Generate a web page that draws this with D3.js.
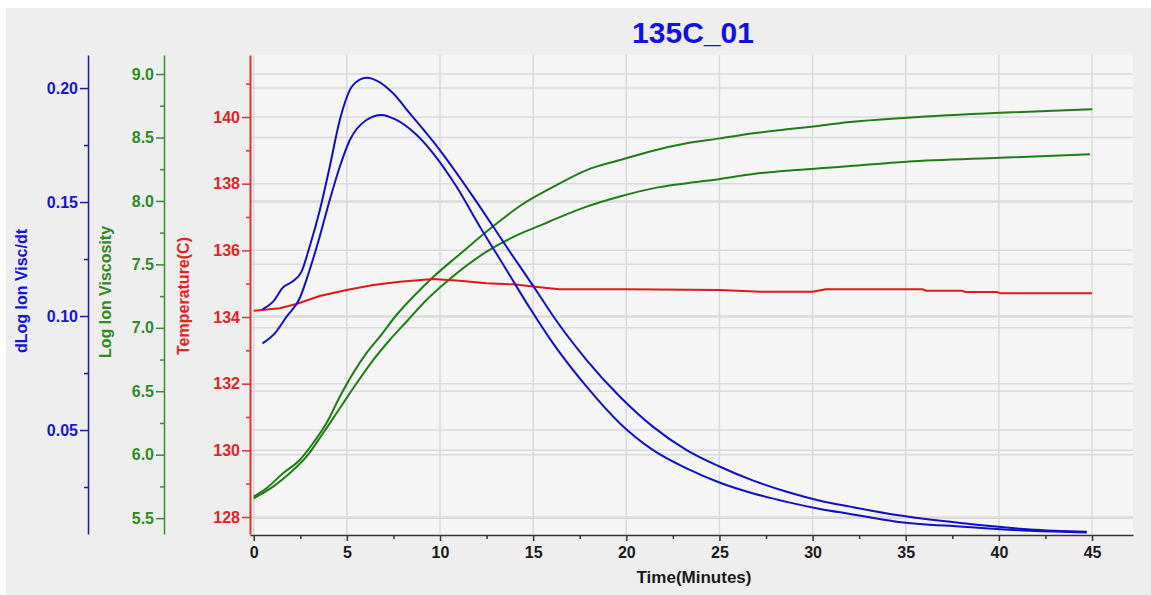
<!DOCTYPE html>
<html>
<head>
<meta charset="utf-8">
<script src="https://cdn.jsdelivr.net/npm/d3@7"></script>
<style>
  body { margin: 0; background: #fff; }
  svg text { font-family: Arial, "Liberation Sans", sans-serif; font-weight: bold; }
</style>
</head>
<body>
<div id="chart"></div>
<script>
// chart data
const chartTitle = "135C_01";
const xTicks = [0, 5, 10, 15, 20, 25, 30, 35, 40, 45];
const dlogTicks = [0.05, 0.10, 0.15, 0.20];
const viscTicks = [5.5, 6.0, 6.5, 7.0, 7.5, 8.0, 8.5, 9.0];
const tempTicks = [128, 130, 132, 134, 136, 138, 140];

// [time (min), value]
const dlogRun1 = [
  [0.47, 0.1029], [1.04, 0.1063], [1.58, 0.1126], [2.02, 0.1148], [2.56, 0.1194],
  [3.0, 0.1304], [3.55, 0.1465], [4.08, 0.1655], [4.62, 0.1860], [5.33, 0.2013],
  [6.05, 0.2045], [6.77, 0.2025], [7.48, 0.1977], [8.38, 0.1889], [9.99, 0.1728],
  [11.78, 0.1523], [13.57, 0.1304], [15.36, 0.1088], [16.07, 0.1000], [17.87, 0.0807],
  [19.66, 0.0646], [21.44, 0.0514], [23.24, 0.0412], [25.03, 0.0339], [26.82, 0.0278],
  [28.61, 0.0229], [30.40, 0.0190], [32.01, 0.0164], [34.52, 0.0127], [38.09, 0.0091],
  [41.68, 0.0064], [44.72, 0.0054]
];
const dlogRun2 = [
  [0.47, 0.0880], [1.13, 0.0924], [1.76, 0.0997], [2.47, 0.1078], [3.0, 0.1202],
  [3.54, 0.1348], [4.08, 0.1509], [4.62, 0.1655], [5.16, 0.1772], [6.05, 0.1860],
  [6.86, 0.1882], [7.66, 0.1860], [8.56, 0.1808], [9.63, 0.1714], [10.89, 0.1567],
  [12.14, 0.1392], [13.57, 0.1202], [14.82, 0.1035], [16.07, 0.0880], [17.87, 0.0690],
  [19.66, 0.0529], [21.44, 0.0412], [23.24, 0.0332], [25.03, 0.0269], [26.82, 0.0222],
  [28.61, 0.0185], [30.40, 0.0154], [32.01, 0.0132], [34.52, 0.0098], [38.09, 0.0076],
  [41.68, 0.0058], [44.72, 0.0051]
];
const viscRun1 = [
  [0, 5.669], [0.68, 5.735], [1.57, 5.853], [2.47, 5.958], [3.18, 6.090], [3.9, 6.247],
  [4.62, 6.457], [5.33, 6.641], [6.05, 6.800], [6.77, 6.930], [7.66, 7.101], [8.56, 7.245],
  [9.63, 7.400], [11.06, 7.580], [12.85, 7.800], [14.29, 7.960], [16.07, 8.110],
  [17.87, 8.243], [19.66, 8.322], [21.44, 8.396], [23.24, 8.454], [25.03, 8.493],
  [26.82, 8.533], [28.61, 8.564], [30.40, 8.593], [32.01, 8.622], [35.05, 8.656],
  [40.06, 8.695], [45.02, 8.722]
];
const viscRun2 = [
  [0, 5.656], [1.04, 5.748], [1.93, 5.853], [2.83, 5.984], [3.72, 6.169], [4.62, 6.366],
  [5.52, 6.563], [6.41, 6.746], [7.30, 6.904], [8.2, 7.048], [9.27, 7.219], [10.35, 7.363],
  [12.5, 7.600], [14.29, 7.740], [15.36, 7.805], [16.07, 7.850], [17.87, 7.955],
  [19.66, 8.035], [21.44, 8.099], [23.24, 8.139], [25.03, 8.173], [26.82, 8.212],
  [28.61, 8.238], [30.40, 8.257], [32.01, 8.275], [35.05, 8.309], [40.06, 8.340],
  [44.9, 8.367]
];
const tempRun = [
  [0, 134.19], [1.4, 134.26], [2.29, 134.39], [3.54, 134.63], [4.98, 134.81],
  [6.41, 134.96], [7.84, 135.06], [9.63, 135.14], [11.06, 135.09], [12.5, 135.01],
  [13.93, 134.98], [15.36, 134.89], [16.4, 134.83], [20, 134.83], [25, 134.81],
  [27.2, 134.76], [30.0, 134.76], [30.7, 134.83], [35.9, 134.83], [36.1, 134.79],
  [38.0, 134.79], [38.2, 134.75], [39.9, 134.75], [40.1, 134.71], [45, 134.71]
];

const width = 1151;
const height = 595;
const plot = { left: 250, right: 1133, top: 55, bottom: 534 };

const blue = "#1515d8", green = "#2f8a22", red = "#e32424";

const svg = d3.select("#chart").append("svg")
  .attr("width", width)
  .attr("height", height);

// outer panel and plot background
svg.append("rect").attr("x", 6).attr("y", 8)
  .attr("width", width - 6).attr("height", height - 8)
  .attr("fill", "#eeeeee");
svg.append("rect").attr("x", plot.left).attr("y", plot.top)
  .attr("width", plot.right - plot.left).attr("height", plot.bottom - plot.top + 1)
  .attr("fill", "#f5f5f5");

// scales
const x = d3.scaleLinear().domain([-0.2, 47.2]).range([plot.left, plot.right]);
const yDlog = d3.scaleLinear().domain([0.0044, 0.2145]).range([plot.bottom, plot.top]);
const yVisc = d3.scaleLinear().domain([5.375, 9.15]).range([plot.bottom, plot.top]);
const yTemp = d3.scaleLinear().domain([127.49, 141.86]).range([plot.bottom, plot.top]);

// grid lines
const grid = svg.append("g").attr("stroke", "#dadada").attr("stroke-width", 1.5);
xTicks.forEach(t => {
  grid.append("line")
    .attr("x1", x(t)).attr("x2", x(t))
    .attr("y1", plot.top).attr("y2", plot.bottom);
});
[[yTemp, tempTicks], [yVisc, viscTicks], [yDlog, dlogTicks]].forEach(([s, ticks]) => {
  ticks.forEach(v => {
    grid.append("line")
      .attr("x1", plot.left).attr("x2", plot.right)
      .attr("y1", s(v)).attr("y2", s(v));
  });
});

// helper for left axes with major + minor ticks
function leftAxis(xPos, scale, majors, minors, color, lineColor, fmt) {
  const g = svg.append("g").attr("transform", `translate(${xPos},0)`);
  g.append("g")
    .call(d3.axisLeft(scale).tickValues(minors).tickSize(4).tickSizeOuter(0).tickFormat(""))
    .call(a => a.select(".domain").remove())
    .selectAll("line").attr("stroke", lineColor).attr("stroke-width", 1.5);
  const major = g.append("g")
    .call(d3.axisLeft(scale).tickValues(majors).tickSize(8).tickPadding(2).tickSizeOuter(0).tickFormat(fmt));
  major.select(".domain").attr("stroke", lineColor).attr("stroke-width", 1.5);
  major.selectAll("line").attr("stroke", lineColor).attr("stroke-width", 1.5);
  major.selectAll("text").attr("fill", color).style("font-size", "16px");
  return g;
}

leftAxis(88, yDlog, dlogTicks, [0.025, 0.075, 0.125, 0.175], blue, "#1a1a9a", d3.format(".2f"));
leftAxis(164, yVisc, viscTicks, [5.75, 6.25, 6.75, 7.25, 7.75, 8.25, 8.75], green, "#3b8b30", d3.format(".1f"));
const tempAxis = leftAxis(250, yTemp, tempTicks, [129, 131, 133, 135, 137, 139, 141], red, "#e03030", d3.format("d"));
tempAxis.selectAll(".domain").attr("stroke-width", 2);

// bottom axis
const xAxisG = svg.append("g").attr("transform", `translate(0,${plot.bottom + 1})`);
xAxisG.append("g")
  .call(d3.axisBottom(x).tickValues(d3.range(2.5, 45, 5)).tickSize(4).tickSizeOuter(0).tickFormat(""))
  .call(a => a.select(".domain").remove())
  .selectAll("line").attr("stroke", "#333").attr("stroke-width", 1.5);
const xMajor = xAxisG.append("g")
  .call(d3.axisBottom(x).tickValues(xTicks).tickSize(6).tickPadding(6).tickSizeOuter(0).tickFormat(d3.format("d")));
xMajor.select(".domain").attr("stroke", "#333").attr("stroke-width", 1.5);
xMajor.selectAll("line").attr("stroke", "#333").attr("stroke-width", 1.5);
xMajor.selectAll("text").attr("fill", "#1a1a1a").style("font-size", "16px");

// axis titles
svg.append("text")
  .attr("transform", "translate(21,291) rotate(-90)")
  .attr("text-anchor", "middle").attr("dy", "0.35em")
  .attr("fill", blue).style("font-size", "16px")
  .text("dLog Ion Visc/dt");
svg.append("text")
  .attr("transform", "translate(105,292) rotate(-90)")
  .attr("text-anchor", "middle").attr("dy", "0.35em")
  .attr("fill", green).style("font-size", "16px")
  .text("Log Ion Viscosity");
svg.append("text")
  .attr("transform", "translate(183,296) rotate(-90)")
  .attr("text-anchor", "middle").attr("dy", "0.35em")
  .attr("fill", red).style("font-size", "16px")
  .text("Temperature(C)");
svg.append("text")
  .attr("x", 694).attr("y", 583)
  .attr("text-anchor", "middle")
  .attr("fill", "#1a1a1a").style("font-size", "17px")
  .text("Time(Minutes)");

// chart title
svg.append("text")
  .attr("x", 693).attr("y", 43)
  .attr("text-anchor", "middle")
  .attr("fill", "#1212e0").style("font-size", "30px")
  .text(chartTitle);

// curves
const curves = svg.append("g").attr("fill", "none").attr("stroke-width", 2);
const smooth = scale => d3.line().x(d => x(d[0])).y(d => scale(d[1])).curve(d3.curveMonotoneX);
const straight = scale => d3.line().x(d => x(d[0])).y(d => scale(d[1]));

curves.append("path").datum(viscRun1).attr("stroke", "#1f7d16").attr("d", smooth(yVisc));
curves.append("path").datum(viscRun2).attr("stroke", "#1f7d16").attr("d", smooth(yVisc));
curves.append("path").datum(tempRun).attr("stroke", "#e01818").attr("d", straight(yTemp));
curves.append("path").datum(dlogRun1).attr("stroke", "#1010c8").attr("d", smooth(yDlog));
curves.append("path").datum(dlogRun2).attr("stroke", "#1010c8").attr("d", smooth(yDlog));
</script>
</body>
</html>
